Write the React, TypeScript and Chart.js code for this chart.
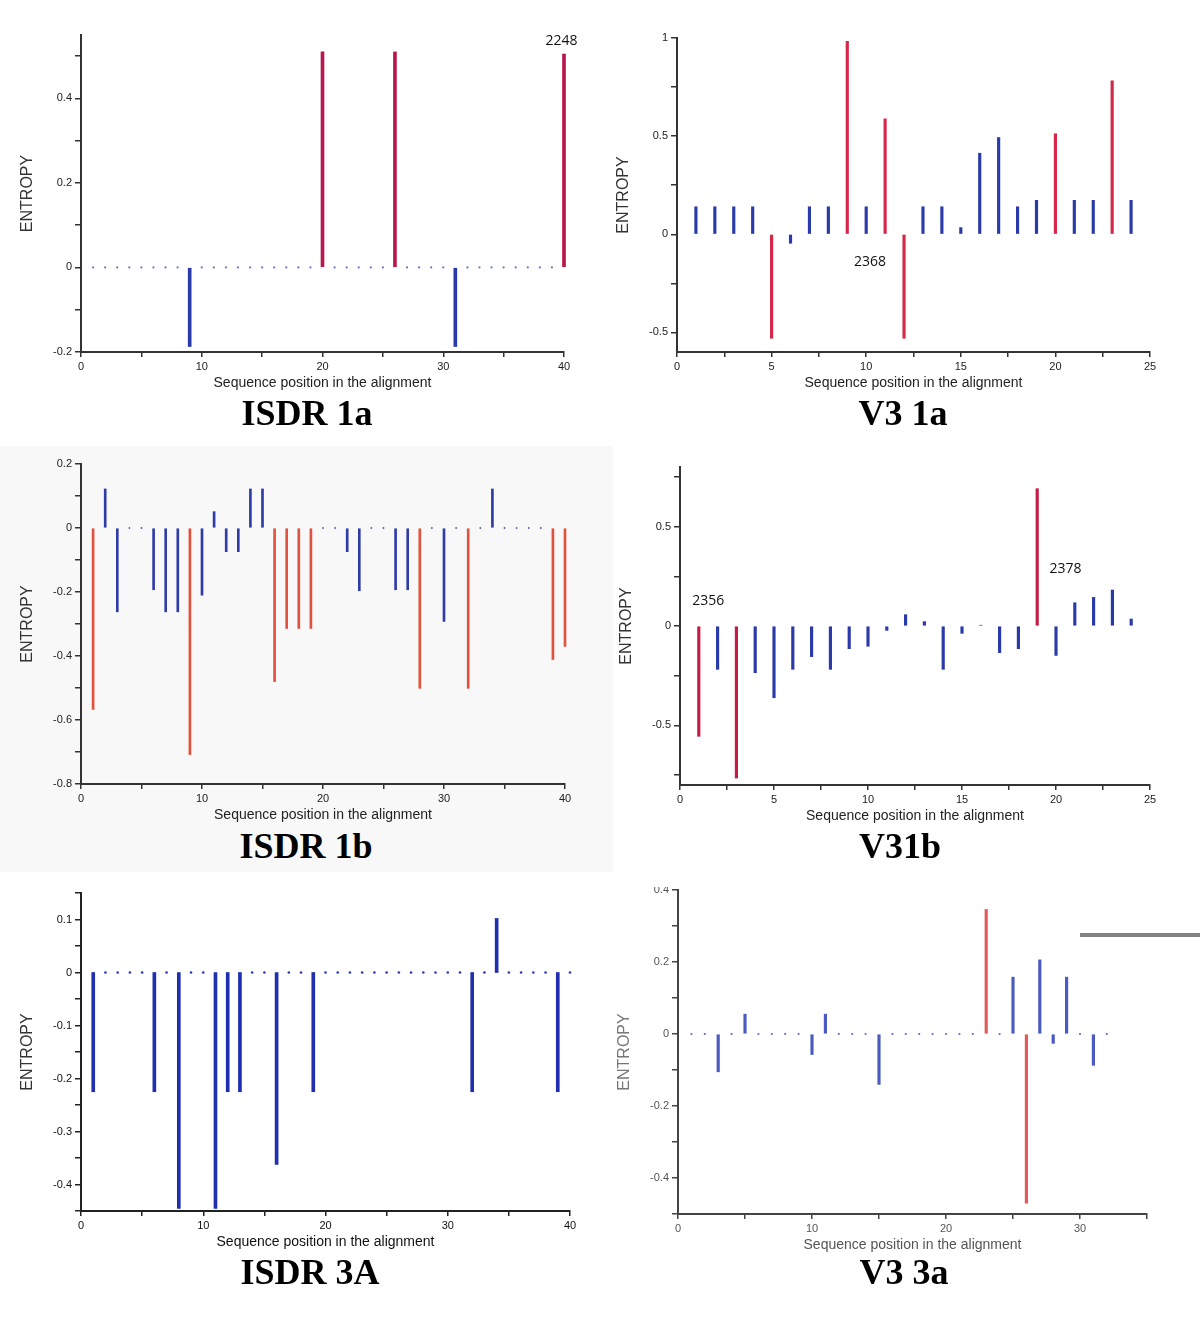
import React, { useEffect, useRef } from "react";
import { Chart, registerables } from "chart.js";

Chart.register(...registerables);

// ---------------- DATA (value at sequence positions 1..N) ----------------
const isdr1aValues = [
  0, 0, 0, 0, 0, 0, 0, 0, -0.187, 0,
  0, 0, 0, 0, 0, 0, 0, 0, 0, 0.51,
  0, 0, 0, 0, 0, 0.51, 0, 0, 0, 0,
  -0.187, 0, 0, 0, 0, 0, 0, 0, 0, 0.505,
];
const isdr1aRed = [20, 26, 40];
const isdr1aNotes = [{ text: "2248", x: 39.8, y: 0.535 }];

const v31aValues = [
  0.14, 0.14, 0.14, 0.14, -0.53, -0.046, 0.14, 0.14, 0.983, 0.14,
  0.588, -0.53, 0.14, 0.14, 0.034, 0.413, 0.493, 0.14, 0.173, 0.512,
  0.173, 0.173, 0.782, 0.173,
];
const v31aRed = [5, 9, 11, 12, 20, 23];
const v31aNotes = [{ text: "2368", x: 10.2, y: -0.143 }];

const isdr1bValues = [
  -0.567, 0.122, -0.262, 0, 0, -0.193, -0.262, -0.262, -0.708, -0.21,
  0.051, -0.074, -0.074, 0.122, 0.122, -0.48, -0.314, -0.314, -0.314, 0,
  0, -0.074, -0.196, 0, 0, -0.193, -0.193, -0.501, 0, -0.292,
  0, -0.501, 0, 0.122, 0, 0, 0, 0, -0.411, -0.37,
];
const isdr1bRed = [1, 9, 16, 17, 18, 19, 28, 32, 39, 40];

const v31bValues = [
  -0.555, -0.218, -0.765, -0.235, -0.361, -0.218, -0.154, -0.218, -0.114, -0.102,
  -0.022, 0.057, 0.022, -0.218, -0.037, 0.004, -0.134, -0.114, 0.691, -0.148,
  0.117, 0.144, 0.181, 0.035,
];
const v31bRed = [1, 3, 19];
const v31bNotes = [
  { text: "2356", x: 1.5, y: 0.126 },
  { text: "2378", x: 20.5, y: 0.287 },
];

const isdr3aValues = [
  -0.225, 0, 0, 0, 0, -0.225, 0, -0.445, 0, 0,
  -0.445, -0.225, -0.225, 0, 0, -0.362, 0, 0, -0.225, 0,
  0, 0, 0, 0, 0, 0, 0, 0, 0, 0,
  0, -0.225, 0, 0.102, 0, 0, 0, 0, -0.225, 0,
];
const isdr3aRed: number[] = [];

const v33aValues = [
  0, 0, -0.105, 0, 0.055, 0, 0, 0, 0, -0.057,
  0.055, 0, 0, 0, -0.14, 0, 0, 0, 0, 0,
  0, 0, 0.346, 0, 0.158, -0.47, 0.206, -0.026, 0.158, 0,
  -0.087, 0,
];
const v33aRed = [23, 26];

// ---------------- PANEL LAYOUT / STYLE ----------------
type Note = { text: string; x: number; y: number };
type PanelSpec = {
  title: string;
  titleX: number;
  titleY: number;
  values: number[];
  red: number[];
  notes: Note[];
  showDots: boolean;
  area: { l: number; t: number; r: number; b: number };
  yMin: number;
  yMax: number;
  yStep: number;
  yLabelStep: number;
  xMax: number;
  xStep: number;
  xLabelStep: number;
  barWidth: number;
  dotRadius: number;
  redColor: string;
  blueColor: string;
  dotColor: string;
  textColor: string;
  axisColor: string;
};

const YW = 64;
const XH = 42;
const PT = 15;
const PR = 22;

const panels: PanelSpec[] = [
  {
    title: "ISDR 1a", titleX: 307, titleY: 413,
    values: isdr1aValues, red: isdr1aRed, notes: isdr1aNotes, showDots: true,
    area: { l: 81, t: 35, r: 564, b: 352 },
    yMin: -0.2, yMax: 0.55, yStep: 0.1, yLabelStep: 0.2,
    xMax: 40, xStep: 5, xLabelStep: 10,
    barWidth: 3, dotRadius: 1.1,
    redColor: "#b8194c", blueColor: "#2a3aa8", dotColor: "#6a78c8",
    textColor: "#222", axisColor: "#333",
  },
  {
    title: "V3 1a", titleX: 903, titleY: 413,
    values: v31aValues, red: v31aRed, notes: v31aNotes, showDots: false,
    area: { l: 677, t: 38, r: 1150, b: 352 },
    yMin: -0.6, yMax: 1.0, yStep: 0.25, yLabelStep: 0.5,
    xMax: 25, xStep: 2.5, xLabelStep: 5,
    barWidth: 2.5, dotRadius: 1,
    redColor: "#d4284a", blueColor: "#2a3aa8", dotColor: "#6a78c8",
    textColor: "#222", axisColor: "#333",
  },
  {
    title: "ISDR 1b", titleX: 306, titleY: 846,
    values: isdr1bValues, red: isdr1bRed, notes: [], showDots: true,
    area: { l: 81, t: 464, r: 565, b: 784 },
    yMin: -0.8, yMax: 0.2, yStep: 0.1, yLabelStep: 0.2,
    xMax: 40, xStep: 5, xLabelStep: 10,
    barWidth: 2, dotRadius: 0.9,
    redColor: "#e0523e", blueColor: "#2f3ca8", dotColor: "#4a58b0",
    textColor: "#222", axisColor: "#333",
  },
  {
    title: "V31b", titleX: 900, titleY: 846,
    values: v31bValues, red: v31bRed, notes: v31bNotes, showDots: false,
    area: { l: 680, t: 467, r: 1150, b: 785 },
    yMin: -0.8, yMax: 0.8, yStep: 0.25, yLabelStep: 0.5,
    xMax: 25, xStep: 2.5, xLabelStep: 5,
    barWidth: 2.5, dotRadius: 1,
    redColor: "#c41c44", blueColor: "#2a3aa8", dotColor: "#6a78c8",
    textColor: "#222", axisColor: "#333",
  },
  {
    title: "ISDR 3A", titleX: 310, titleY: 1272,
    values: isdr3aValues, red: isdr3aRed, notes: [], showDots: true,
    area: { l: 81, t: 893, r: 570, b: 1211 },
    yMin: -0.45, yMax: 0.15, yStep: 0.05, yLabelStep: 0.1,
    xMax: 40, xStep: 5, xLabelStep: 10,
    barWidth: 3, dotRadius: 1.3,
    redColor: "#d03040", blueColor: "#1f2fae", dotColor: "#2a3ab0",
    textColor: "#111", axisColor: "#222",
  },
  {
    title: "V3 3a", titleX: 904, titleY: 1272,
    values: v33aValues, red: v33aRed, notes: [], showDots: true,
    area: { l: 678, t: 890, r: 1147, b: 1214 },
    yMin: -0.5, yMax: 0.4, yStep: 0.1, yLabelStep: 0.2,
    xMax: 35, xStep: 5, xLabelStep: 10,
    barWidth: 2.5, dotRadius: 1.1,
    redColor: "#e25a5a", blueColor: "#4a5ac0", dotColor: "#5a6ac8",
    textColor: "#555", axisColor: "#444",
  },
];

const SANS = "'Liberation Sans', Arial, sans-serif";

const notesPlugin = {
  id: "notes",
  afterDatasetsDraw(chart: any, _args: any, opts: any) {
    const items: Note[] = opts.items || [];
    if (!items.length) return;
    const { ctx } = chart;
    const xs = chart.scales.x;
    const ys = chart.scales.y;
    ctx.save();
    ctx.font = "14px 'Open Sans', 'DejaVu Sans', sans-serif";
    ctx.fillStyle = "#111";
    ctx.textAlign = "center";
    ctx.textBaseline = "middle";
    for (const it of items) {
      ctx.fillText(it.text, xs.getPixelForValue(it.x), ys.getPixelForValue(it.y));
    }
    ctx.restore();
  },
};

const fmt = (v: number) => {
  const r = Math.round(v * 100) / 100;
  return String(r === 0 ? 0 : r);
};

function Panel({ spec }: { spec: PanelSpec }) {
  const ref = useRef<HTMLCanvasElement>(null);
  const { area } = spec;
  const left = area.l - YW;
  const top = area.t - PT;
  const width = YW + (area.r - area.l) + PR;
  const height = PT + (area.b - area.t) + XH;

  useEffect(() => {
    if (!ref.current) return;
    const bars = spec.values
      .map((v, i) => ({ x: i + 1, y: v }))
      .filter((p) => p.y !== 0);
    const dots = spec.showDots
      ? spec.values.map((v, i) => ({ x: i + 1, y: v })).filter((p) => p.y === 0)
      : [];
    const yStepK = Math.round(spec.yStep * 1000);
    const yLabK = Math.round(spec.yLabelStep * 1000);
    const xStepK = Math.round(spec.xStep * 1000);
    const xLabK = Math.round(spec.xLabelStep * 1000);

    const chart = new Chart(ref.current, {
      type: "bar",
      data: {
        datasets: [
          {
            type: "scatter",
            data: dots,
            pointRadius: spec.dotRadius,
            pointBackgroundColor: spec.dotColor,
            pointBorderWidth: 0,
            clip: false,
            order: 2,
          } as any,
          {
            type: "bar",
            data: bars,
            barThickness: spec.barWidth,
            backgroundColor: (ctx: any) => {
              const raw = ctx.raw as { x: number } | undefined;
              return raw && spec.red.includes(raw.x) ? spec.redColor : spec.blueColor;
            },
            borderWidth: 0,
            grouped: false,
            clip: false,
            order: 1,
          } as any,
        ],
      },
      options: {
        responsive: false,
        animation: false,
        events: [],
        layout: { padding: { top: PT, right: PR, left: 0, bottom: 0 } },
        plugins: {
          legend: { display: false },
          tooltip: { enabled: false },
          notes: { items: spec.notes },
        } as any,
        scales: {
          x: {
            type: "linear",
            min: 0,
            max: spec.xMax,
            offset: false,
            grid: {
              offset: false,
              drawOnChartArea: false,
              drawTicks: true,
              tickLength: 5,
              color: spec.axisColor,
              lineWidth: 1.5,
            },
            border: { display: true, color: spec.axisColor, width: 2 },
            ticks: {
              stepSize: spec.xStep,
              autoSkip: false,
              maxRotation: 0,
              includeBounds: false,
              padding: 3,
              color: spec.textColor,
              font: { family: SANS, size: 11 },
              callback: (v: any) => {
                const k = Math.round(Number(v) * 1000);
                if (k % xStepK !== 0) return null;
                return k % xLabK === 0 ? fmt(Number(v)) : "";
              },
            },
            title: {
              display: true,
              text: "Sequence position in the alignment",
              color: spec.textColor,
              font: { family: SANS, size: 14 },
              padding: { top: 0, bottom: 2 },
            },
            afterFit: (s: any) => {
              s.height = XH;
            },
          },
          y: {
            type: "linear",
            min: spec.yMin,
            max: spec.yMax,
            grid: {
              drawOnChartArea: false,
              drawTicks: true,
              tickLength: 6,
              color: spec.axisColor,
              lineWidth: 1.5,
            },
            border: { display: true, color: spec.axisColor, width: 2 },
            ticks: {
              stepSize: spec.yStep,
              autoSkip: false,
              includeBounds: false,
              maxTicksLimit: 100,
              padding: 3,
              color: spec.textColor,
              font: { family: SANS, size: 11 },
              callback: (v: any) => {
                const k = Math.round(Number(v) * 1000);
                if (k % yStepK !== 0) return null;
                return k % yLabK === 0 ? fmt(Number(v)) : "";
              },
            },
            title: {
              display: true,
              text: "ENTROPY",
              color: spec.textColor === "#555" ? "#777" : "#333",
              font: { family: SANS, size: 16 },
              padding: { top: 1, bottom: 0 },
            },
            afterFit: (s: any) => {
              s.width = YW;
            },
          },
        },
      } as any,
      plugins: [notesPlugin as any],
    });
    return () => chart.destroy();
  }, [spec]);

  return (
    <>
      <canvas
        ref={ref}
        width={width}
        height={height}
        style={{ position: "absolute", left, top, width, height }}
      />
      <div
        style={{
          position: "absolute",
          left: spec.titleX - 150,
          top: spec.titleY - 20,
          width: 300,
          height: 40,
          lineHeight: "40px",
          textAlign: "center",
          fontFamily: "'Liberation Serif', 'Times New Roman', serif",
          fontWeight: "bold",
          fontSize: 36,
          color: "#000",
        }}
      >
        {spec.title}
      </div>
    </>
  );
}

export default function App() {
  return (
    <div
      style={{
        position: "absolute",
        left: 0,
        top: 0,
        width: 1200,
        height: 1318,
        background: "#ffffff",
        overflow: "hidden",
      }}
    >
      <div
        style={{
          position: "absolute",
          left: 0,
          top: 446,
          width: 613,
          height: 426,
          background: "#f8f8f8",
        }}
      />
      {panels.map((p) => (
        <Panel key={p.title} spec={p} />
      ))}
      <div
        style={{
          position: "absolute",
          left: 630,
          top: 868,
          width: 80,
          height: 19,
          background: "#ffffff",
        }}
      />
      <div
        style={{
          position: "absolute",
          left: 1080,
          top: 933,
          width: 120,
          height: 4,
          background: "#828282",
        }}
      />
    </div>
  );
}
